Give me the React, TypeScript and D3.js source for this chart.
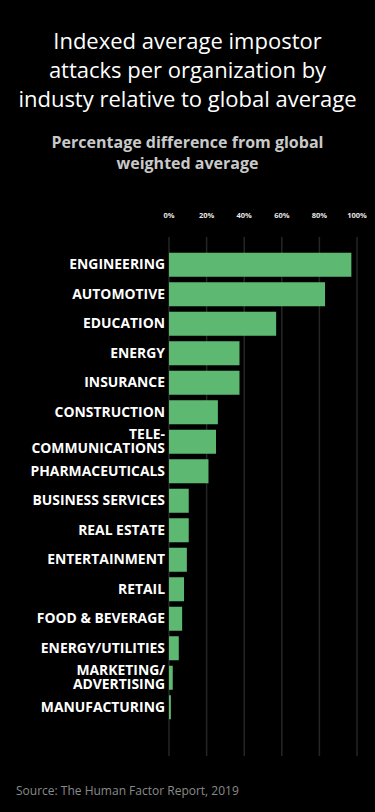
import { useEffect, useRef } from "react";
import * as d3 from "d3";

// ---------------------------------------------------------------------------
// Data
// ---------------------------------------------------------------------------

const INDUSTRIES = [
  "ENGINEERING",
  "AUTOMOTIVE",
  "EDUCATION",
  "ENERGY",
  "INSURANCE",
  "CONSTRUCTION",
  "TELE-\nCOMMUNICATIONS",
  "PHARMACEUTICALS",
  "BUSINESS SERVICES",
  "REAL ESTATE",
  "ENTERTAINMENT",
  "RETAIL",
  "FOOD & BEVERAGE",
  "ENERGY/UTILITIES",
  "MARKETING/\nADVERTISING",
  "MANUFACTURING",
];

// percentage difference from global weighted average
const PCT_DIFF = [97, 83, 57, 37.5, 37.5, 26, 25, 21, 10.5, 10.5, 9.5, 8, 7, 5.2, 2, 1];

const X_TICKS = [0, 20, 40, 60, 80, 100];

const TITLE_LINES = [
  "Indexed average impostor",
  "attacks per organization by",
  "industy relative to global average",
];
const SUBTITLE_LINES = ["Percentage difference from global", "weighted average"];
const SOURCE = "Source: The Human Factor Report, 2019";

const W = 375;
const H = 812;
const FONT = "'Open Sans', 'Noto Sans', sans-serif";
const BAR_COLOR = "#5db871";
const GRID_COLOR = "#262626";

export default function App() {
  const svgRef = useRef<SVGSVGElement>(null);

  useEffect(() => {
    const svg = d3.select(svgRef.current);
    svg.selectAll("*").remove();

    svg.append("rect").attr("width", W).attr("height", H).attr("fill", "#000");

    // ---- Title + subtitle ----
    TITLE_LINES.forEach((t, i) => {
      svg
        .append("text")
        .attr("x", W / 2)
        .attr("y", 49 + i * 29)
        .attr("text-anchor", "middle")
        .attr("fill", "#ffffff")
        .attr("font-family", FONT)
        .attr("font-size", 22)
        .text(t);
    });
    SUBTITLE_LINES.forEach((t, i) => {
      svg
        .append("text")
        .attr("x", W / 2)
        .attr("y", 147.5 + i * 21.5)
        .attr("text-anchor", "middle")
        .attr("fill", "#c9c9c9")
        .attr("font-family", FONT)
        .attr("font-weight", 700)
        .attr("font-size", 16)
        .text(t);
    });

    // ---- Scales ----
    const x = d3.scaleLinear().domain([0, 100]).range([169, 357]);
    const y = d3
      .scaleBand<string>()
      .domain(INDUSTRIES)
      .range([250, 250 + INDUSTRIES.length * 29.5])
      .paddingInner(0.186)
      .paddingOuter(0.093);

    const g = svg.append("g");

    // ---- Gridlines + tick labels ----
    X_TICKS.forEach((t) => {
      g.append("line")
        .attr("x1", x(t))
        .attr("x2", x(t))
        .attr("y1", 237)
        .attr("y2", 756)
        .attr("stroke", GRID_COLOR)
        .attr("stroke-width", 1.5);
      g.append("text")
        .attr("x", x(t))
        .attr("y", 215)
        .attr("dominant-baseline", "central")
        .attr("text-anchor", "middle")
        .attr("fill", "#e6e6e6")
        .attr("font-family", FONT)
        .attr("font-weight", 700)
        .attr("font-size", 7.5)
        .text(`${t}%`);
    });

    // ---- Bars ----
    INDUSTRIES.forEach((name, i) => {
      g.append("rect")
        .attr("x", x(0))
        .attr("y", y(name)!)
        .attr("width", x(PCT_DIFF[i]) - x(0))
        .attr("height", y.bandwidth())
        .attr("fill", BAR_COLOR);

      // Category label (may wrap on "\n")
      const lines = name.split("\n");
      const cy = y(name)! + y.bandwidth() / 2;
      const lh = 14;
      lines.forEach((ln, li) => {
        g.append("text")
          .attr("x", 165)
          .attr("y", cy - 1 + (li - (lines.length - 1) / 2) * lh)
          .attr("dominant-baseline", "central")
          .attr("text-anchor", "end")
          .attr("fill", "#ffffff")
          .attr("font-family", FONT)
          .attr("font-weight", 700)
          .attr("font-size", 13.9)
          .text(ln);
      });
    });

    // ---- Source ----
    svg
      .append("text")
      .attr("x", 16)
      .attr("y", 795)
      .attr("fill", "#8a8a8a")
      .attr("font-family", FONT)
      .attr("font-size", 12)
      .text(SOURCE);
  }, []);

  return (
    <svg
      ref={svgRef}
      width={W}
      height={H}
      style={{ position: "absolute", top: 0, left: 0, display: "block" }}
    />
  );
}
